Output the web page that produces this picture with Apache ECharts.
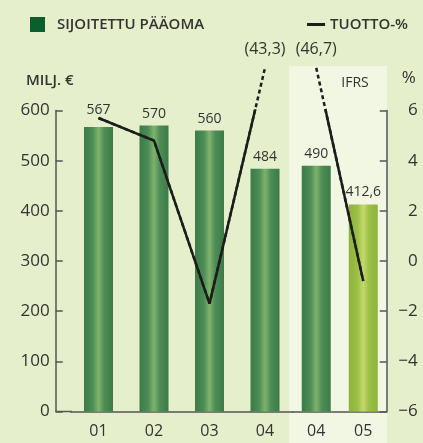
<!doctype html>
<html>
<head>
<meta charset="utf-8">
<title></title>
<script src="https://cdn.jsdelivr.net/npm/echarts@6/dist/echarts.min.js"></script>
<style>
  html, body { margin: 0; padding: 0; background: #e5efcb; }
  #chart { width: 423px; height: 443px; }
</style>
</head>
<body>
<div id="chart"></div>
<script>
  // vuodet ennen IFRS:ää ja IFRS-vuodet
  var yearsFas = ['01', '02', '03', '04'];
  var yearsIfrs = ['04', '05'];
  // sijoitettu pääoma, milj. €
  var capitalFas = [567, 570, 560, 484];
  var capitalIfrs = [490, 412.6];
  // tuotto-%
  var returnFas = [5.7, 4.8, -1.7, 43.3];
  var returnIfrs = [46.7, -0.8];
  // akselit
  var capitalMin = 0, capitalMax = 600, capitalStep = 100;
  var returnMin = -6, returnMax = 6, returnStep = 2;
  var returnCap = 7.7; // asteikon ylittävät arvot piirretään tähän korkeuteen katkoviivalla

  var font = '"Open Sans", "Noto Sans", sans-serif';
  var textColor = '#333';
  var axisColor = '#555';

  function fi(v) {
    return String(v).replace('.', ',');
  }
  function minus(v) {
    return v < 0 ? '\u2212' + Math.abs(v) : String(v);
  }
  function barGradient(edge, mid, center) {
    return new echarts.graphic.LinearGradient(0, 0, 1, 0, [
      { offset: 0, color: edge },
      { offset: 0.3, color: mid },
      { offset: 0.5, color: center },
      { offset: 0.7, color: mid },
      { offset: 1, color: edge }
    ]);
  }
  var darkBar = barGradient('#3a7c47', '#4d8c55', '#7fb36c');
  var lightBar = barGradient('#8cb33a', '#9dbf46', '#c3da6c');

  function lineData(values) {
    return values.map(function (v) {
      return { value: Math.min(v, returnCap), real: v };
    });
  }
  function lineLabel() {
    return {
      show: true,
      position: 'top',
      distance: 10,
      fontFamily: font,
      fontSize: 16,
      color: textColor,
      formatter: function (p) {
        return p.data.real > returnMax ? '(' + fi(p.data.real) + ')' : '';
      }
    };
  }
  function solidLine(xi, yi, values) {
    return {
      name: 'TUOTTO-%', type: 'line', xAxisIndex: xi, yAxisIndex: yi,
      data: lineData(values), symbol: 'none', clip: true, z: 5,
      lineStyle: { color: '#1d1d1d', width: 2.5 },
      emphasis: { disabled: true }
    };
  }
  function dashedLine(xi, yi, values) {
    return {
      name: 'TUOTTO-%', type: 'line', xAxisIndex: xi, yAxisIndex: yi,
      data: lineData(values), symbol: 'circle', symbolSize: 1, clip: false, z: 6,
      itemStyle: { color: 'rgba(0,0,0,0)' },
      lineStyle: { color: '#1d1d1d', width: 2.5, type: [4, 3] },
      label: lineLabel(),
      emphasis: { disabled: true }
    };
  }
  function barLabel() {
    return {
      show: true, position: 'top', distance: 5,
      fontFamily: font, fontSize: 14, color: textColor,
      formatter: function (p) { return fi(p.value); }
    };
  }

  var valueAxis = function (gi, min, max, step, extra) {
    var a = {
      gridIndex: gi, type: 'value', min: min, max: max, interval: step,
      splitLine: { show: false },
      axisLine: { show: true, lineStyle: { color: axisColor, width: 1.5 } },
      axisTick: { show: true, inside: true, length: 7, lineStyle: { color: axisColor, width: 1.5 } },
      axisLabel: { fontFamily: font, fontSize: 17, color: textColor }
    };
    for (var k in extra) a[k] = extra[k];
    return a;
  };
  var catAxis = function (gi, data) {
    return {
      gridIndex: gi, type: 'category', data: data,
      axisLine: { show: true, lineStyle: { color: axisColor, width: 1.5 } },
      axisTick: { show: false },
      axisLabel: { fontFamily: font, fontSize: 16, color: textColor, margin: 12 }
    };
  };

  var chart = echarts.init(document.getElementById('chart'));
  chart.setOption({
    backgroundColor: '#e5efcb',
    animation: false,
    graphic: [
      { type: 'rect', z: -1, shape: { x: 289, y: 66, width: 98, height: 377 }, style: { fill: '#f2f7e4' } },
      { type: 'text', z: 1, style: { text: 'IFRS', x: 355, y: 83, align: 'center', verticalAlign: 'middle',
        fontFamily: font, fontSize: 14, fill: textColor } },
      { type: 'line', z: 1, shape: { x1: 55.5, y1: 411.5, x2: 72, y2: 411.5 },
        style: { stroke: axisColor, lineWidth: 1.5 } }
    ],
    legend: [
      {
        left: 25, top: 12, selectedMode: false, icon: 'rect', itemWidth: 15, itemHeight: 15,
        textStyle: { fontFamily: font, fontSize: 15, fontWeight: 600, color: textColor, padding: [0, 0, 0, 7] },
        data: [{ name: 'SIJOITETTU PÄÄOMA', itemStyle: { color: '#0b5f2c' } }]
      },
      {
        right: 10, top: 12, selectedMode: false, icon: 'rect', itemWidth: 18, itemHeight: 3,
        textStyle: { fontFamily: font, fontSize: 15, fontWeight: 600, color: textColor, padding: [0, 0, 0, 0] },
        data: [{ name: 'TUOTTO-%', itemStyle: { color: '#1d1d1d' } }]
      }
    ],
    grid: [
      { left: 70.75, width: 222, top: 110.5, height: 301 },
      { left: 292.75, width: 94, top: 110.5, height: 301 }
    ],
    xAxis: [catAxis(0, yearsFas), catAxis(1, yearsIfrs)],
    yAxis: [
      valueAxis(0, capitalMin, capitalMax, capitalStep, {
        position: 'left', offset: 15,
        name: 'MILJ. €', nameLocation: 'end', nameGap: 22,
        nameTextStyle: { fontFamily: font, fontSize: 15, fontWeight: 600, color: textColor, align: 'center', padding: [0, 12, 0, 0] },
        axisLabel: { fontFamily: font, fontSize: 17, color: textColor, margin: 6 }
      }),
      valueAxis(0, returnMin, returnMax, returnStep, { show: false }),
      valueAxis(1, capitalMin, capitalMax, capitalStep, { show: false }),
      valueAxis(1, returnMin, returnMax, returnStep, {
        position: 'right',
        name: '%', nameLocation: 'end', nameGap: 24,
        nameTextStyle: { fontFamily: font, fontSize: 17, color: textColor, align: 'center', padding: [0, 0, 0, 44] },
        axisLabel: { fontFamily: font, fontSize: 17, color: textColor, align: 'right', margin: 31, formatter: minus }
      })
    ],
    series: [
      {
        name: 'SIJOITETTU PÄÄOMA', type: 'bar', xAxisIndex: 0, yAxisIndex: 0, barWidth: 29,
        data: capitalFas.map(function (v, i) {
          // ensimmäisen pylvään arvo nostetaan viivan yläpuolelle
          return i === 0 ? { value: v, label: { distance: 10 } } : v;
        }),
        itemStyle: { color: darkBar }, label: barLabel(), emphasis: { disabled: true }
      },
      {
        name: 'SIJOITETTU PÄÄOMA', type: 'bar', xAxisIndex: 1, yAxisIndex: 2, barWidth: 29,
        data: capitalIfrs.map(function (v, i) {
          return { value: v, itemStyle: { color: i === capitalIfrs.length - 1 ? lightBar : darkBar } };
        }),
        label: barLabel(), emphasis: { disabled: true }
      },
      solidLine(0, 1, returnFas),
      dashedLine(0, 1, returnFas),
      solidLine(1, 3, returnIfrs),
      dashedLine(1, 3, returnIfrs)
    ]
  });
</script>
</body>
</html>
